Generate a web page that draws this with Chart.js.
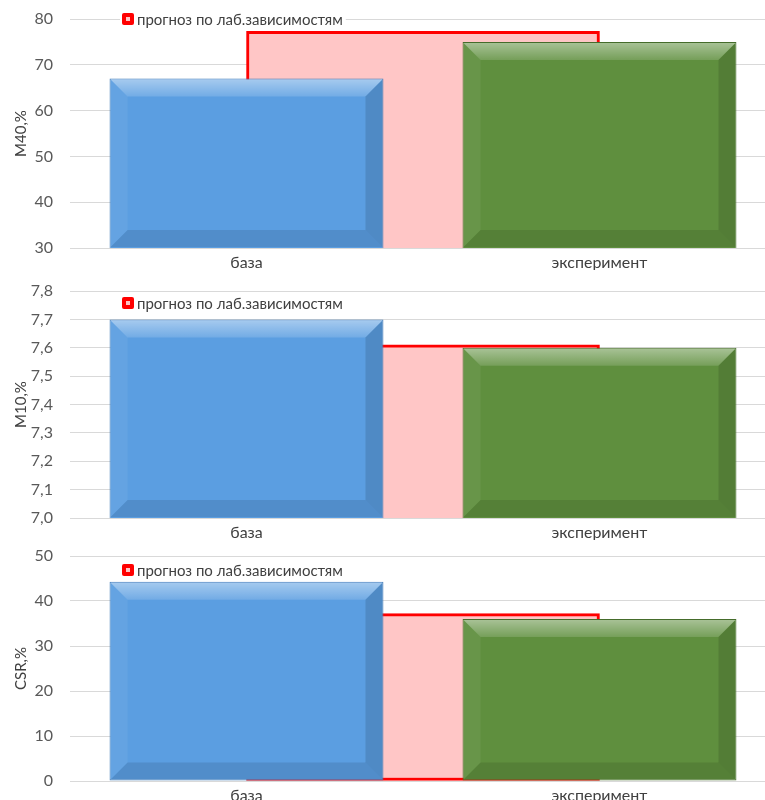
<!DOCTYPE html>
<html lang="ru">
<head>
<meta charset="utf-8">
<title>М40, М10, CSR — база / эксперимент</title>
<script src="https://cdn.jsdelivr.net/npm/chart.js@4.4.1/dist/chart.umd.min.js"></script>
<style>
  html, body { margin: 0; padding: 0; background: #fff; overflow: hidden; }
  .panel { position: absolute; left: 0; }
</style>
</head>
<body>
<canvas id="m40" class="panel" width="790" height="270" style="top:0"></canvas>
<canvas id="m10" class="panel" width="790" height="270" style="top:270px"></canvas>
<canvas id="csr" class="panel" width="790" height="263" style="top:540px"></canvas>
<script>
  /* ---- data ---- */
  var categories = ['база', 'эксперимент'];
  var forecastLabel = 'прогноз по лаб.зависимостям';
  var forecastSlots = ['', '', ''];   // forecast bar sits between the two categories

  var m40Values = [67, 75];
  var m40Forecast = [null, 77.3, null];
  var m40Ticks = [30, 40, 50, 60, 70, 80];

  var m10Values = [7.7, 7.6];
  var m10Forecast = [null, 7.61, null];
  var m10Ticks = [7.0, 7.1, 7.2, 7.3, 7.4, 7.5, 7.6, 7.7, 7.8];

  var csrValues = [44.3, 36.0];
  var csrForecast = [null, 37.2, null];
  var csrTicks = [0, 10, 20, 30, 40, 50];

  var FONT = "Lato, 'Open Sans', sans-serif";

  /* ---- bevel look of the main bars ---- */
  function poly(ctx, pts, fill) {
    ctx.beginPath();
    ctx.moveTo(pts[0][0], pts[0][1]);
    for (var i = 1; i < pts.length; i++) ctx.lineTo(pts[i][0], pts[i][1]);
    ctx.closePath();
    ctx.fillStyle = fill;
    ctx.fill();
  }

  var bevelPlugin = {
    id: 'bevel',
    afterDatasetsDraw: function (chart) {
      var ctx = chart.ctx;
      var area = chart.chartArea;
      var meta = chart.getDatasetMeta(0);
      ctx.save();
      meta.data.forEach(function (bar) {
        var L = bar.x - bar.width / 2 + 1, R = bar.x + bar.width / 2 - 1;
        var T = Math.max(Math.min(bar.y, bar.base), area.top) + 1;
        var B = Math.min(Math.max(bar.y, bar.base), area.bottom) - 1;
        var b = Math.min(17, (B - T) / 2, (R - L) / 2);
        var g = ctx.createLinearGradient(0, T, 0, T + b);
        g.addColorStop(0, 'rgba(255,255,255,0.45)');
        g.addColorStop(1, 'rgba(255,255,255,0.14)');
        poly(ctx, [[L, T], [R, T], [R - b, T + b], [L + b, T + b]], g);
        poly(ctx, [[L, T], [L + b, T + b], [L + b, B - b], [L, B]], 'rgba(255,255,255,0.06)');
        poly(ctx, [[R, T], [R, B], [R - b, B - b], [R - b, T + b]], 'rgba(0,0,0,0.12)');
        poly(ctx, [[L, B], [R, B], [R - b, B - b], [L + b, B - b]], 'rgba(0,0,0,0.1)');
      });
      ctx.restore();
    }
  };

  /* ---- legend drawn inside the plot, as in the source figure ---- */
  var forecastLegend = {
    id: 'forecastLegend',
    afterDraw: function (chart, args, opts) {
      var ctx = chart.ctx;
      var ds = chart.data.datasets[1];
      var x = chart.chartArea.left + opts.dx;
      var y = chart.chartArea.top + opts.dy;
      ctx.save();
      ctx.font = '15px ' + FONT;
      var w = ctx.measureText(ds.label).width;
      ctx.fillStyle = '#fff';
      ctx.fillRect(x - 2, y - 9, w + 20, 18);
      ctx.fillStyle = ds.borderColor;
      ctx.beginPath();
      ctx.roundRect(x, y - 6, 12, 12, 2);
      ctx.fill();
      ctx.fillStyle = ds.backgroundColor;
      ctx.fillRect(x + 4, y - 2, 4, 4);
      ctx.fillStyle = '#404040';
      ctx.textBaseline = 'middle';
      ctx.fillText(ds.label, x + 15, y + 1);
      ctx.restore();
    }
  };

  function makeChart(id, values, forecast, ticks, title, decimals, pad, legendDy) {
    return new Chart(document.getElementById(id), {
      type: 'bar',
      data: {
        labels: categories,
        datasets: [{
          label: 'main',
          data: values,
          order: 1,
          xAxisID: 'x',
          grouped: false,
          backgroundColor: ['#5B9EE1', '#5F8F3E'],
          borderColor: ['#3F77B5', '#456C2B'],
          borderWidth: 1,
          borderSkipped: false,
          categoryPercentage: 1,
          barPercentage: 0.776
        }, {
          label: forecastLabel,
          data: forecast,
          order: 2,
          xAxisID: 'x2',
          grouped: false,
          backgroundColor: '#FFC6C6',
          borderColor: '#FF0000',
          borderWidth: 3,
          borderSkipped: false,
          categoryPercentage: 1,
          barPercentage: 1
        }]
      },
      options: {
        responsive: false,
        animation: false,
        layout: { padding: { top: pad[0], right: 14, bottom: pad[1], left: 0 } },
        plugins: {
          legend: { display: false },
          tooltip: { enabled: false },
          forecastLegend: { dx: 52, dy: legendDy }
        },
        scales: {
          x: {
            grid: { display: false, drawTicks: false },
            border: { display: false },
            ticks: { padding: 5, color: '#404040', font: { family: FONT, size: 16 } },
            afterFit: function (scale) { scale.height = 22; }
          },
          x2: {
            type: 'category',
            labels: forecastSlots,
            offset: false,
            display: false
          },
          y: {
            min: ticks[0],
            max: ticks[ticks.length - 1],
            afterBuildTicks: function (scale) {
              scale.ticks = ticks.map(function (v) { return { value: v }; });
            },
            grid: { color: '#D9D9D9', lineWidth: 1, drawTicks: true, tickLength: 14, tickColor: 'rgba(0,0,0,0)' },
            border: { display: false },
            ticks: {
              padding: 3,
              color: '#595959',
              font: { family: FONT, size: 16 },
              callback: function (v) { return Number(v).toFixed(decimals).replace('.', ','); }
            },
            title: {
              display: true,
              text: title,
              color: '#404040',
              padding: { top: 12, bottom: 0 },
              font: { family: FONT, size: 15 }
            },
            afterFit: function (scale) { scale.width = 70; }
          }
        }
      },
      plugins: [bevelPlugin, forecastLegend]
    });
  }

  makeChart('m40', m40Values, m40Forecast, m40Ticks, 'М40,%', 0, [19, 0], 0);
  makeChart('m10', m10Values, m10Forecast, m10Ticks, 'М10,%', 1, [21, 0], 12);
  makeChart('csr', csrValues, csrForecast, csrTicks, 'CSR,%', 0, [16, 0], 14);
</script>
</body>
</html>
